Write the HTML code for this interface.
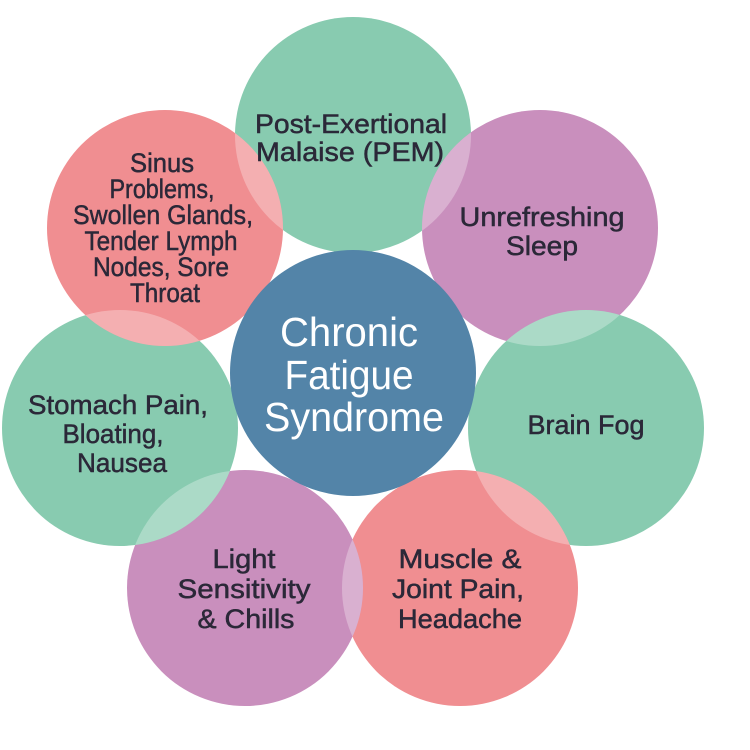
<!DOCTYPE html>
<html><head><meta charset="utf-8"><style>html,body{margin:0;padding:0;background:#fff}svg{display:block}</style></head>
<body>
<svg width="750" height="750" viewBox="0 0 750 750" xmlns="http://www.w3.org/2000/svg">
<defs>
<clipPath id="cA"><circle cx="353" cy="135" r="118"/></clipPath>
<clipPath id="cB"><circle cx="540" cy="228" r="118"/></clipPath>
<clipPath id="cC"><circle cx="586" cy="428" r="118"/></clipPath>
<clipPath id="cD"><circle cx="460" cy="588" r="118"/></clipPath>
<clipPath id="cE"><circle cx="245" cy="588" r="118"/></clipPath>
<clipPath id="cF"><circle cx="120" cy="428" r="118"/></clipPath>
<clipPath id="cG"><circle cx="165" cy="228" r="118"/></clipPath>
</defs>
<circle cx="353" cy="135" r="118" fill="#88cbb0"/>
<circle cx="540" cy="228" r="118" fill="#c98fbd"/>
<circle cx="586" cy="428" r="118" fill="#88cbb0"/>
<circle cx="460" cy="588" r="118" fill="#f08e91"/>
<circle cx="245" cy="588" r="118" fill="#c98fbd"/>
<circle cx="120" cy="428" r="118" fill="#88cbb0"/>
<circle cx="165" cy="228" r="118" fill="#f08e91"/>
<g fill="#fff" opacity="0.3">
<circle cx="540" cy="228" r="118" clip-path="url(#cA)"/>
<circle cx="586" cy="428" r="118" clip-path="url(#cB)"/>
<circle cx="460" cy="588" r="118" clip-path="url(#cC)"/>
<circle cx="245" cy="588" r="118" clip-path="url(#cD)"/>
<circle cx="120" cy="428" r="118" clip-path="url(#cE)"/>
<circle cx="165" cy="228" r="118" clip-path="url(#cF)"/>
<circle cx="353" cy="135" r="118" clip-path="url(#cG)"/>
</g>
<circle cx="353" cy="373" r="123" fill="#5384a8"/>
<g font-family="'Liberation Sans', sans-serif" font-size="27" fill="#2b2838" stroke="#2b2838" stroke-width="0.5" text-anchor="middle">
<text x="351" y="133" textLength="192" lengthAdjust="spacingAndGlyphs">Post-Exertional</text>
<text x="350" y="161" textLength="188" lengthAdjust="spacingAndGlyphs">Malaise (PEM)</text>
<text x="542" y="226" textLength="165" lengthAdjust="spacingAndGlyphs">Unrefreshing</text>
<text x="542" y="255" textLength="72" lengthAdjust="spacingAndGlyphs">Sleep</text>
<text x="162" y="172" textLength="64" lengthAdjust="spacingAndGlyphs">Sinus</text>
<text x="162" y="198" textLength="105" lengthAdjust="spacingAndGlyphs">Problems,</text>
<text x="163" y="224" textLength="180" lengthAdjust="spacingAndGlyphs">Swollen Glands,</text>
<text x="161" y="250" textLength="153" lengthAdjust="spacingAndGlyphs">Tender Lymph</text>
<text x="161" y="276" textLength="136" lengthAdjust="spacingAndGlyphs">Nodes, Sore</text>
<text x="165" y="302" textLength="70" lengthAdjust="spacingAndGlyphs">Throat</text>
<text x="118" y="414" textLength="180" lengthAdjust="spacingAndGlyphs">Stomach Pain,</text>
<text x="113" y="443" textLength="101" lengthAdjust="spacingAndGlyphs">Bloating,</text>
<text x="122" y="472" textLength="90" lengthAdjust="spacingAndGlyphs">Nausea</text>
<text x="586" y="434" textLength="117" lengthAdjust="spacingAndGlyphs">Brain Fog</text>
<text x="244" y="568" textLength="63" lengthAdjust="spacingAndGlyphs">Light</text>
<text x="244" y="598" textLength="133" lengthAdjust="spacingAndGlyphs">Sensitivity</text>
<text x="246" y="628" textLength="97" lengthAdjust="spacingAndGlyphs">&amp; Chills</text>
<text x="460" y="568" textLength="123" lengthAdjust="spacingAndGlyphs">Muscle &amp;</text>
<text x="458" y="598" textLength="132" lengthAdjust="spacingAndGlyphs">Joint Pain,</text>
<text x="460" y="628" textLength="124" lengthAdjust="spacingAndGlyphs">Headache</text>
</g>
<g font-family="'Liberation Sans', sans-serif" font-size="41" fill="#ffffff" text-anchor="middle">
<text x="349" y="346" textLength="138" lengthAdjust="spacingAndGlyphs">Chronic</text>
<text x="349" y="389" textLength="129" lengthAdjust="spacingAndGlyphs">Fatigue</text>
<text x="354" y="431" textLength="180" lengthAdjust="spacingAndGlyphs">Syndrome</text>
</g>
</svg>
</body></html>
